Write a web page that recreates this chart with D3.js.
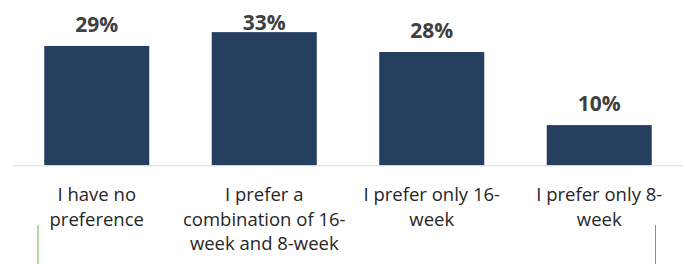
<!DOCTYPE html>
<html><head><meta charset="utf-8">
<script src="https://cdn.jsdelivr.net/npm/d3@7"></script>
<style>body{margin:0;background:#fff}svg{display:block}</style>
</head><body>
<svg id="c" width="686" height="264"></svg>
<script>
const categories = ["I have no preference", "I prefer a combination of 16-week and 8-week", "I prefer only 16-week", "I prefer only 8-week"];
const values = [29.4, 32.8, 27.9, 9.9];
const valueLabels = ["29%", "33%", "28%", "10%"];

const svg = d3.select("#c");
const baseY = 165.3;
const x = d3.scaleBand().domain(categories).range([13, 683]).paddingInner(0.373).paddingOuter(0.1865);
const y = d3.scaleLinear().domain([0, 35]).range([baseY, baseY - 35 * 4.06]);

svg.selectAll("rect.bar").data(categories).join("rect")
  .attr("class", "bar")
  .attr("x", d => x(d))
  .attr("width", x.bandwidth())
  .attr("y", (d, i) => y(values[i]))
  .attr("height", (d, i) => baseY - y(values[i]))
  .attr("fill", "#243F60");

const ax = svg.append("g").attr("transform", `translate(0,${baseY})`)
  .call(d3.axisBottom(x).tickSize(0).tickPadding(0).tickSizeOuter(0));
ax.select(".domain").attr("stroke", "#d9d9d9").attr("stroke-width", 1).attr("d", "M13,0.5H683");

const fontFam = "'Open Sans', sans-serif";
ax.selectAll(".tick text").each(function(d) {
  const t = d3.select(this);
  t.text(null).attr("y", 0).attr("dy", null)
    .style("font-family", fontFam).style("font-size", "18.5px").attr("fill", "#262626");
  const tokens = d.match(/[^\s-]+-?|\s+/g).filter(s => s.trim().length);
  const lines = [];
  let cur = "";
  const measure = t.append("tspan");
  for (const tok of tokens) {
    const cand = cur === "" ? tok : (cur.endsWith("-") ? cur + tok : cur + " " + tok);
    measure.text(cand);
    if (cur !== "" && measure.node().getComputedTextLength() > 168) {
      lines.push(cur); cur = tok;
    } else cur = cand;
  }
  lines.push(cur);
  measure.remove();
  lines.forEach((ln, i) => {
    t.append("tspan").attr("x", 0).attr("y", 36 + i * 24.5).text(ln);
  });
});

svg.selectAll("text.val").data(categories).join("text")
  .attr("class", "val")
  .attr("x", d => x(d) + x.bandwidth() / 2)
  .attr("y", (d, i) => Math.max(y(values[i]) - 14, 29.5))
  .attr("text-anchor", "middle")
  .style("font-family", fontFam).style("font-size", "21px").style("font-weight", "bold")
  .attr("fill", "#404040")
  .text((d, i) => valueLabels[i]);

svg.append("line").attr("x1", 38).attr("x2", 38).attr("y1", 225).attr("y2", 264).attr("stroke", "#70AD47").attr("stroke-width", 1);
svg.append("line").attr("x1", 655.5).attr("x2", 655.5).attr("y1", 225).attr("y2", 264).attr("stroke", "#70AD47").attr("stroke-width", 1);
</script>
</body></html>
